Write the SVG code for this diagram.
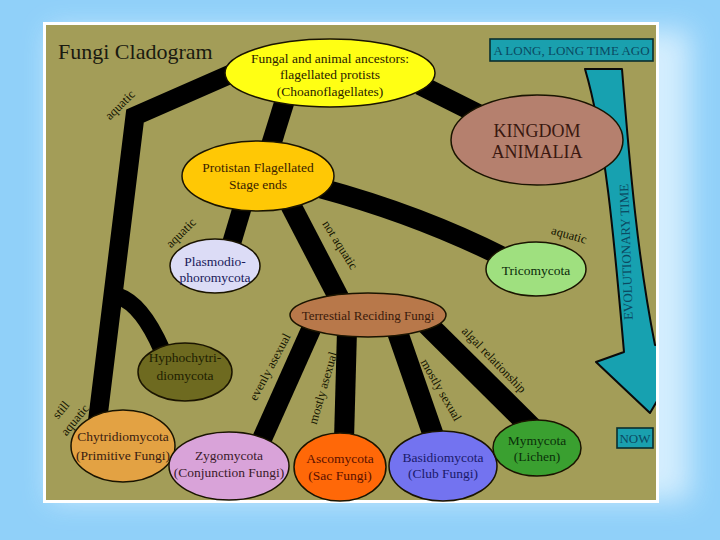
<svg xmlns="http://www.w3.org/2000/svg" width="720" height="540" viewBox="0 0 720 540">
<defs>
<filter id="glow" x="-20%" y="-20%" width="140%" height="140%"><feGaussianBlur stdDeviation="14"/></filter>
<clipPath id="panel"><rect x="46" y="25" width="610" height="475"/></clipPath>
<style>
.n{stroke:#1a1400;stroke-width:1.5}
.t{font-family:"Liberation Serif","Times New Roman",serif;font-size:13.5px;text-anchor:middle}
.lb{font-family:"Liberation Serif","Times New Roman",serif;font-size:12.5px;fill:#141400;text-anchor:middle;dominant-baseline:central}
.band{fill:none;stroke:#000;stroke-linecap:butt;stroke-linejoin:miter}
.box{fill:#1aa0ae;stroke:#0a2e2e;stroke-width:1.6}
.bt{font-family:"Liberation Serif","Times New Roman",serif;font-size:13px;fill:#0b4a62;text-anchor:middle}
</style>
</defs>
<rect width="720" height="540" fill="#90d0f9"/>
<rect x="50" y="30" width="640" height="470" fill="#e4f5ff" filter="url(#glow)" opacity="0.8"/>
<rect x="43" y="22" width="616" height="481" fill="#ffffff"/>
<rect x="46" y="25" width="610" height="475" fill="#a39d58"/>

<text x="58" y="59" font-family="Liberation Serif, serif" font-size="22" fill="#1a1a10">Fungi Cladogram</text>

<g id="timeline" clip-path="url(#panel)">
<path d="M585 69 L622 69 C630 170 638 260 655 345 L690 345 L650 413 L596 362 L624 352 C615 250 606 140 585 69 Z" fill="#17a1b0" stroke="#0a0a0a" stroke-width="2" stroke-linejoin="round"/>
<text class="bt" transform="translate(626 252) rotate(-92)" dominant-baseline="central">EVOLUTIONARY TIME</text>
</g>
<g id="ago"><rect class="box" x="490" y="39" width="163" height="22"/><text class="bt" x="571.5" y="55">A LONG, LONG TIME AGO</text></g>
<g id="now"><rect class="box" x="617" y="428" width="36" height="20"/><text class="bt" x="635" y="443">NOW</text></g>

<g id="connectors">
<path class="band" stroke-width="19" d="M240 70 L135 116 L97 425"/>
<path class="band" stroke-width="17" d="M118 296 Q142 304 162 350"/>
<path class="band" stroke-width="20" d="M285 100 L271 145"/>
<path class="band" stroke-width="20" d="M420 85 L480 115"/>
<path class="band" stroke-width="20" d="M320 188 Q420 215 505 258"/>
<path class="band" stroke-width="21" d="M288 200 L340 300"/>
<path class="band" stroke-width="19" d="M243 205 L231 245"/>
<path class="band" stroke-width="20" d="M313 325 L258 448"/>
<path class="band" stroke-width="20" d="M347 330 L344 440"/>
<path class="band" stroke-width="21" d="M395 325 L435 440"/>
<path class="band" stroke-width="22" d="M425 322 L532 428"/>
<g id="labels">
<text class="lb" transform="translate(120 105) rotate(-45)">aquatic</text>
<text class="lb" transform="translate(181 233) rotate(-45)">aquatic</text>
<text class="lb" transform="translate(340 245) rotate(58)">not aquatic</text>
<text class="lb" transform="translate(569 235) rotate(16)">aquatic</text>
<text class="lb" transform="translate(270 367) rotate(-62)">evenly asexual</text>
<text class="lb" transform="translate(323 388) rotate(-74)">mostly asexual</text>
<text class="lb" transform="translate(441 390) rotate(60)">mostly sexual</text>
<text class="lb" transform="translate(494 360) rotate(46)">algal relationship</text>
<text class="lb" transform="translate(61 410) rotate(-50)">still</text>
<text class="lb" transform="translate(75 420) rotate(-50)">aquatic</text>
</g>
</g>

<g id="ancestors"><ellipse class="n" cx="330" cy="73" rx="105" ry="34" fill="#ffff14"/>
<text class="t" fill="#2a2200" x="330" y="63">Fungal and animal ancestors:</text>
<text class="t" fill="#2a2200" x="330" y="79">flagellated protists</text>
<text class="t" fill="#2a2200" x="330" y="96">(Choanoflagellates)</text></g>

<g id="animalia"><ellipse class="n" cx="537" cy="140" rx="86" ry="45" fill="#b5806e"/>
<text class="t" fill="#3a1810" font-size="18" x="537" y="137" style="font-size:18px">KINGDOM</text>
<text class="t" fill="#3a1810" x="537" y="158" style="font-size:18px">ANIMALIA</text></g>

<g id="protistan"><ellipse class="n" cx="258" cy="176" rx="76" ry="35" fill="#ffc805"/>
<text class="t" fill="#3a2200" x="258" y="172">Protistan Flagellated</text>
<text class="t" fill="#3a2200" x="258" y="189">Stage ends</text></g>

<g id="plasmodio"><ellipse class="n" cx="215" cy="266" rx="45" ry="27" fill="#dcdcf6"/>
<text class="t" fill="#1a1a5a" x="215" y="266">Plasmodio-</text>
<text class="t" fill="#1a1a5a" x="215" y="282">phoromycota</text></g>

<g id="tricomycota"><ellipse class="n" cx="536" cy="269" rx="50" ry="27" fill="#9fe07f"/>
<text class="t" fill="#0a2a0a" x="536" y="275">Tricomycota</text></g>

<g id="terrestial"><ellipse class="n" cx="368" cy="315" rx="78" ry="22" fill="#b8784a"/>
<text class="t" fill="#3a1a0a" x="368" y="320" style="font-size:13px">Terrestial Reciding Fungi</text></g>

<g id="hypho"><ellipse class="n" cx="185" cy="372" rx="47" ry="29" fill="#6e6a20"/>
<text class="t" fill="#201e00" x="185" y="362">Hyphochytri-</text>
<text class="t" fill="#201e00" x="185" y="380">diomycota</text></g>

<g id="chytrid"><ellipse class="n" cx="123" cy="446" rx="52" ry="36" fill="#e3a243"/>
<text class="t" fill="#3a2010" x="123" y="441">Chytridiomycota</text>
<text class="t" fill="#3a2010" x="123" y="460">(Primitive Fungi)</text></g>

<g id="zygo"><ellipse class="n" cx="229" cy="466" rx="60" ry="34" fill="#d9a3d9"/>
<text class="t" fill="#3a1a2a" x="229" y="460">Zygomycota</text>
<text class="t" fill="#3a1a2a" x="229" y="477">(Conjunction Fungi)</text></g>

<g id="asco"><ellipse class="n" cx="340" cy="467" rx="46" ry="34" fill="#ff6808"/>
<text class="t" fill="#5a1000" x="340" y="463">Ascomycota</text>
<text class="t" fill="#5a1000" x="340" y="480">(Sac Fungi)</text></g>

<g id="basidio"><ellipse class="n" cx="443" cy="466" rx="54" ry="35" fill="#7373f0"/>
<text class="t" fill="#1a1a6a" x="443" y="462">Basidiomycota</text>
<text class="t" fill="#1a1a6a" x="443" y="478">(Club Fungi)</text></g>

<g id="mymycota"><ellipse class="n" cx="537" cy="448" rx="44" ry="28" fill="#3aa030"/>
<text class="t" fill="#0a300a" x="537" y="445">Mymycota</text>
<text class="t" fill="#0a300a" x="537" y="461">(Lichen)</text></g>
</svg>
